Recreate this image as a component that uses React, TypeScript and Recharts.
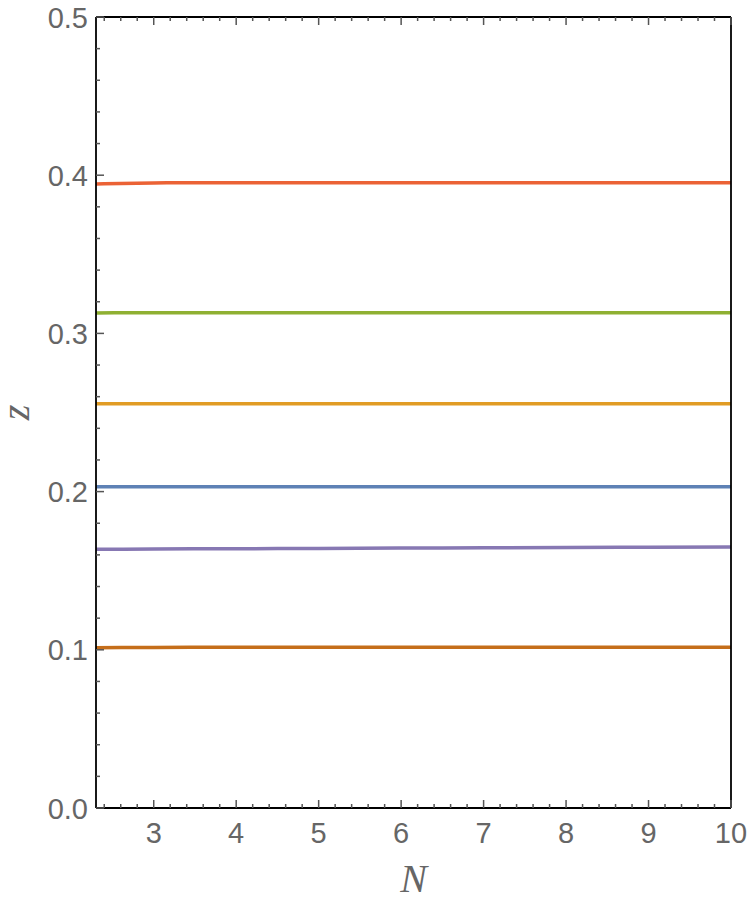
import { LineChart, Line, XAxis, YAxis } from 'recharts'

const nValues = [2.3, 3, 4, 5, 6, 7, 8, 9, 10]
const zRed = [0.3945, 0.3951, 0.3953, 0.3953, 0.3953, 0.3953, 0.3953, 0.3953, 0.3953]
const zGreen = [0.3129, 0.3131, 0.3131, 0.3131, 0.3131, 0.3131, 0.3131, 0.3131, 0.3131]
const zYellow = [0.2555, 0.2556, 0.2556, 0.2556, 0.2556, 0.2556, 0.2556, 0.2556, 0.2556]
const zBlue = [0.2031, 0.2031, 0.2031, 0.2031, 0.2031, 0.2031, 0.2031, 0.2031, 0.2031]
const zPurple = [0.1635, 0.1637, 0.1639, 0.1641, 0.1643, 0.1645, 0.1647, 0.1648, 0.165]
const zOrange = [0.1013, 0.1015, 0.1016, 0.1016, 0.1016, 0.1016, 0.1016, 0.1016, 0.1016]

const xMajor = [3, 4, 5, 6, 7, 8, 9, 10]
const xTicks = [
  2.4, 2.6, 2.8, 3, 3.2, 3.4, 3.6, 3.8, 4, 4.2, 4.4, 4.6, 4.8, 5, 5.2, 5.4, 5.6, 5.8, 6,
  6.2, 6.4, 6.6, 6.8, 7, 7.2, 7.4, 7.6, 7.8, 8, 8.2, 8.4, 8.6, 8.8, 9, 9.2, 9.4, 9.6, 9.8, 10,
]
const yMajor = [0, 0.1, 0.2, 0.3, 0.4, 0.5]
const yTicks = [
  0, 0.02, 0.04, 0.06, 0.08, 0.1, 0.12, 0.14, 0.16, 0.18, 0.2, 0.22, 0.24, 0.26, 0.28,
  0.3, 0.32, 0.34, 0.36, 0.38, 0.4, 0.42, 0.44, 0.46, 0.48, 0.5,
]

const labelFont = '"Liberation Sans", Arial, sans-serif'
const titleFont = '"Liberation Serif", "Times New Roman", serif'
const tickColor = '#555'
const textColor = '#666'
const frame = { stroke: '#000', strokeWidth: 1.8 }

function BottomTick({ x, y, payload }: any) {
  const major = xMajor.includes(payload.value)
  return (
    <g>
      <line x1={x} x2={x} y1={y} y2={y - (major ? 8 : 4)} stroke={tickColor} strokeWidth={1.5} />
      {major && (
        <text x={x} y={y + 35} textAnchor="middle" fill={textColor} fontSize={29} fontFamily={labelFont}>
          {payload.value}
        </text>
      )}
    </g>
  )
}

function TopTick({ x, y, payload }: any) {
  const major = xMajor.includes(payload.value)
  return <line x1={x} x2={x} y1={y} y2={y + (major ? 8 : 4)} stroke={tickColor} strokeWidth={1.5} />
}

function LeftTick({ x, y, payload }: any) {
  const major = yMajor.includes(payload.value)
  return (
    <g>
      <line x1={x} x2={x + (major ? 8 : 4)} y1={y} y2={y} stroke={tickColor} strokeWidth={1.5} />
      {major && (
        <text x={x - 8} y={y + 10.5} textAnchor="end" fill={textColor} fontSize={29} fontFamily={labelFont}>
          {payload.value.toFixed(1)}
        </text>
      )}
    </g>
  )
}

function RightTick({ x, y, payload }: any) {
  const major = yMajor.includes(payload.value)
  return <line x1={x} x2={x - (major ? 8 : 4)} y1={y} y2={y} stroke={tickColor} strokeWidth={1.5} />
}

export default function App() {
  const data = nValues.map((n, i) => ({
    n,
    red: zRed[i],
    green: zGreen[i],
    yellow: zYellow[i],
    blue: zBlue[i],
    purple: zPurple[i],
    orange: zOrange[i],
  }))
  const series = [
    { key: 'red', color: '#EB6235' },
    { key: 'green', color: '#8FB032' },
    { key: 'yellow', color: '#E19C24' },
    { key: 'blue', color: '#5E81B5' },
    { key: 'purple', color: '#8778B3' },
    { key: 'orange', color: '#C56E1A' },
  ]
  return (
    <div style={{ position: 'absolute', left: 0, top: 0, width: 750, height: 900, background: '#fff' }}>
      <LineChart width={750} height={900} data={data} margin={{ top: 16, right: 18, left: 36, bottom: 32 }}>
        <XAxis
          xAxisId="bottom"
          dataKey="n"
          type="number"
          domain={[2.3, 10]}
          allowDataOverflow
          ticks={xTicks}
          interval={0}
          height={60}
          tickSize={0}
          tickMargin={0}
          tickLine={false}
          tick={<BottomTick />}
          axisLine={frame}
          label={(p: any) => (
            <text
              x={p.viewBox.x + p.viewBox.width / 2}
              y={892}
              textAnchor="middle"
              fill={textColor}
              fontSize={40}
              fontStyle="italic"
              fontFamily={titleFont}
            >
              N
            </text>
          )}
        />
        <XAxis
          xAxisId="top"
          dataKey="n"
          type="number"
          orientation="top"
          domain={[2.3, 10]}
          allowDataOverflow
          ticks={xTicks}
          interval={0}
          height={1}
          tickSize={0}
          tickMargin={0}
          tickLine={false}
          tick={<TopTick />}
          axisLine={frame}
        />
        <YAxis
          yAxisId="left"
          type="number"
          domain={[0, 0.5]}
          ticks={yTicks}
          interval={0}
          width={60}
          tickSize={0}
          tickMargin={0}
          tickLine={false}
          tick={<LeftTick />}
          axisLine={frame}
          label={(p: any) => {
            const cy = p.viewBox.y + p.viewBox.height / 2
            return (
              <text
                x={29}
                y={cy}
                transform={`rotate(-90, 29, ${cy})`}
                textAnchor="middle"
                fill={textColor}
                fontSize={40}
                fontStyle="italic"
                fontFamily={titleFont}
              >
                z
              </text>
            )
          }}
        />
        <YAxis
          yAxisId="right"
          orientation="right"
          type="number"
          domain={[0, 0.5]}
          ticks={yTicks}
          interval={0}
          width={1}
          tickSize={0}
          tickMargin={0}
          tickLine={false}
          tick={<RightTick />}
          axisLine={frame}
        />
        {series.map((s) => (
          <Line
            key={s.key}
            xAxisId="bottom"
            yAxisId="left"
            dataKey={s.key}
            type="monotone"
            stroke={s.color}
            strokeWidth={3.5}
            dot={false}
            isAnimationActive={false}
          />
        ))}
      </LineChart>
    </div>
  )
}
